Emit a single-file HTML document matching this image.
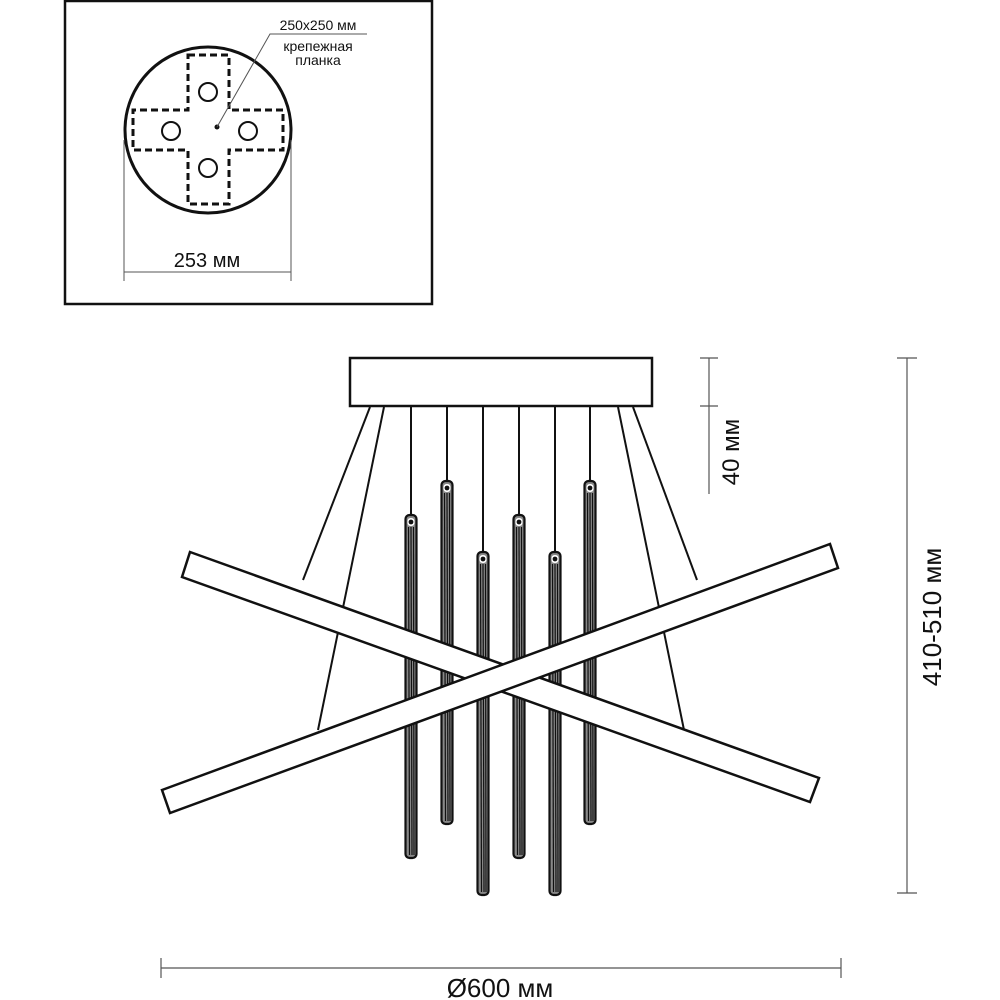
<!DOCTYPE html>
<html><head><meta charset="utf-8"><style>
html,body{margin:0;padding:0;background:#fff;}
svg{display:block;}
text{font-family:"Liberation Sans",sans-serif;fill:#111;}
</style></head><body>
<svg width="1000" height="1000" viewBox="0 0 1000 1000" xmlns="http://www.w3.org/2000/svg">
<defs>
<g id="rod">
  <rect x="-5.5" y="0" width="11" height="343" rx="4" fill="#888" stroke="#111" stroke-width="2.2"/>
  <line x1="-2.5" y1="12" x2="-1.5" y2="340" stroke="#111" stroke-width="1.2"/>
  <line x1="0" y1="12" x2="1" y2="340" stroke="#111" stroke-width="1.2"/>
  <line x1="2.5" y1="12" x2="3" y2="340" stroke="#111" stroke-width="1.2"/>
  <rect x="-3.5" y="3" width="7" height="8" rx="3" fill="#fff"/>
  <circle cx="0" cy="7" r="2.4" fill="#111"/>
</g>
</defs>
<rect x="65" y="1" width="367" height="303" fill="none" stroke="#111" stroke-width="2.5"/>
<circle cx="208" cy="130" r="83" fill="none" stroke="#111" stroke-width="3"/>
<path d="M188 55 H229 V110 H283 V150 H229 V204 H188 V150 H133 V110 H188 Z" fill="none" stroke="#111" stroke-width="3" stroke-dasharray="7,4"/>
<circle cx="208" cy="92" r="9" fill="none" stroke="#111" stroke-width="2"/>
<circle cx="171" cy="131" r="9" fill="none" stroke="#111" stroke-width="2"/>
<circle cx="248" cy="131" r="9" fill="none" stroke="#111" stroke-width="2"/>
<circle cx="208" cy="168" r="9" fill="none" stroke="#111" stroke-width="2"/>
<circle cx="217" cy="127" r="2.5" fill="#111"/>
<polyline points="217,127 270,34 367,34" fill="none" stroke="#555" stroke-width="1"/>
<text x="318" y="30" font-size="14" text-anchor="middle">250x250 мм</text>
<text x="318" y="51" font-size="14" text-anchor="middle">крепежная</text>
<text x="318" y="65" font-size="14" text-anchor="middle">планка</text>
<line x1="124" y1="140" x2="124" y2="281" stroke="#555" stroke-width="1"/>
<line x1="291" y1="140" x2="291" y2="281" stroke="#555" stroke-width="1"/>
<line x1="124" y1="272" x2="291" y2="272" stroke="#555" stroke-width="1"/>
<text x="207" y="267" font-size="20" text-anchor="middle">253 мм</text>

<rect x="350" y="358" width="302" height="48" fill="#fff" stroke="#111" stroke-width="2.5"/>
<g stroke="#111" stroke-width="2">
<line x1="370" y1="407" x2="303" y2="580"/>
<line x1="384" y1="407" x2="318" y2="730"/>
<line x1="633" y1="407" x2="697" y2="580"/>
<line x1="618" y1="407" x2="684" y2="730"/>
<line x1="411" y1="407" x2="411" y2="516"/>
<line x1="447" y1="407" x2="447" y2="482"/>
<line x1="483" y1="407" x2="483" y2="553"/>
<line x1="519" y1="407" x2="519" y2="516"/>
<line x1="555" y1="407" x2="555" y2="553"/>
<line x1="590" y1="407" x2="590" y2="482"/>
</g>
<use href="#rod" x="411" y="515"/>
<use href="#rod" x="447" y="481"/>
<use href="#rod" x="483" y="552"/>
<use href="#rod" x="519" y="515"/>
<use href="#rod" x="555" y="552"/>
<use href="#rod" x="590" y="481"/>

<polygon points="190,552 819,778 810,802 182,577" fill="#fff" stroke="#111" stroke-width="2.5"/>
<polygon points="162,790 830,544 838,568 170,813" fill="#fff" stroke="#111" stroke-width="2.5"/>

<g stroke="#555" stroke-width="1.2">
<line x1="709" y1="358" x2="709" y2="494"/>
<line x1="700" y1="358" x2="718" y2="358"/>
<line x1="700" y1="406" x2="718" y2="406"/>
<line x1="907" y1="358" x2="907" y2="893"/>
<line x1="897" y1="358" x2="917" y2="358"/>
<line x1="897" y1="893" x2="917" y2="893"/>
<line x1="161" y1="968" x2="841" y2="968"/>
<line x1="161" y1="958" x2="161" y2="978"/>
<line x1="841" y1="958" x2="841" y2="978"/>
</g>
<text transform="translate(739,452) rotate(-90)" font-size="24" text-anchor="middle">40 мм</text>
<text transform="translate(941,617) rotate(-90)" font-size="26" text-anchor="middle">410-510 мм</text>
<text x="500" y="997" font-size="26" text-anchor="middle">Ø600 мм</text>
</svg>
</body></html>
